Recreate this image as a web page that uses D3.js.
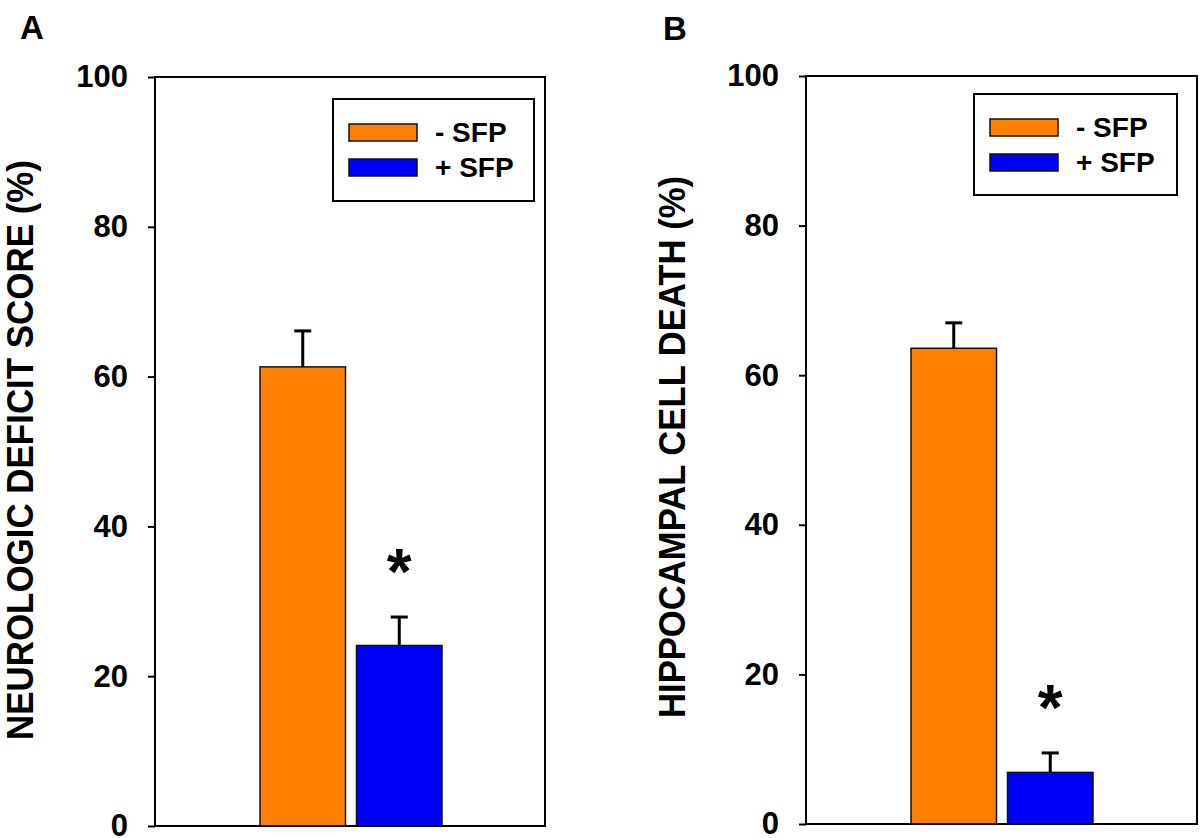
<!DOCTYPE html>
<html><head><meta charset="utf-8">
<script src="https://cdn.jsdelivr.net/npm/d3@7"></script>
<style>
body{margin:0;background:#fff;}
svg{display:block;}
text{font-family:"Liberation Sans", Arial, sans-serif;font-weight:bold;fill:#000;}
</style>
</head><body><svg id="c" width="1200" height="838"></svg>
<script>
// ---- data ----
const groups = ["- SFP", "+ SFP"];
const colors = ["#FF8000", "#0000FF"];
const panelLabels = ["A", "B"];
const yTitles = ["NEUROLOGIC DEFICIT SCORE (%)", "HIPPOCAMPAL CELL DEATH (%)"];
const meansA = [61.3, 24.1];
const errA = [4.8, 3.8];
const meansB = [63.6, 6.9];
const errB = [3.4, 2.6];
const significant = [false, true];
const yTicks = [0, 20, 40, 60, 80, 100];

// ---- layout ----
const panels = [
  {means: meansA, errs: errA, label: panelLabels[0], title: yTitles[0],
   left:155, right:545, top:77, bottom:826, titleX:33, titleY:450, titleLen:580,
   labelX:20, labelY:39, lg:{x:333, y:99, w:201, h:102}},
  {means: meansB, errs: errB, label: panelLabels[1], title: yTitles[1],
   left:806, right:1197, top:76, bottom:824, titleX:685, titleY:447, titleLen:542,
   labelX:663, labelY:40, lg:{x:974, y:94, w:203, h:101}}
];

const svg = d3.select("#c");

panels.forEach(p => {
  const g = svg.append("g");
  const y = d3.scaleLinear().domain([0, 100]).range([p.bottom, p.top]);
  const x = d3.scaleBand().domain(groups).range([p.left + 105, p.left + 287]).paddingInner(0.114);

  // bars
  g.selectAll("rect.bar").data(groups).enter().append("rect")
    .attr("x", d => x(d))
    .attr("width", x.bandwidth())
    .attr("y", (d, i) => y(p.means[i]))
    .attr("height", (d, i) => y(0) - y(p.means[i]))
    .attr("fill", (d, i) => colors[i])
    .attr("stroke", "#111").attr("stroke-width", 1.5);

  // error bars
  groups.forEach((d, i) => {
    const cx = x(d) + x.bandwidth() / 2;
    const top = y(p.means[i] + p.errs[i]);
    g.append("line").attr("x1", cx).attr("x2", cx)
      .attr("y1", y(p.means[i])).attr("y2", top)
      .attr("stroke", "#000").attr("stroke-width", 3);
    g.append("line").attr("x1", cx - 8.5).attr("x2", cx + 8.5)
      .attr("y1", top).attr("y2", top)
      .attr("stroke", "#000").attr("stroke-width", 3);
    if (significant[i]) {
      g.append("text").attr("x", cx).attr("y", top - 56 + 33)
        .attr("text-anchor", "middle").style("font-size", "64px").text("*");
    }
  });

  // frame
  g.append("rect").attr("x", p.left).attr("y", p.top)
    .attr("width", p.right - p.left).attr("height", p.bottom - p.top)
    .attr("fill", "none").attr("stroke", "#000").attr("stroke-width", 2);

  // y axis
  const ax = g.append("g").attr("transform", `translate(${p.left},0)`)
    .call(d3.axisLeft(y).tickValues(yTicks).tickSize(7).tickPadding(20));
  ax.select(".domain").remove();
  ax.selectAll(".tick line").attr("stroke", "#000").attr("stroke-width", 2);
  ax.selectAll(".tick text").style("font-size", "31px").attr("fill", "#000")
    .style("font-family", "'Liberation Sans', Arial, sans-serif").style("font-weight", "bold");

  // y title
  g.append("text")
    .attr("transform", `translate(${p.titleX},${p.titleY}) rotate(-90)`)
    .attr("text-anchor", "middle")
    .attr("textLength", p.titleLen).attr("lengthAdjust", "spacingAndGlyphs")
    .style("font-size", "36px").text(p.title);

  // panel label
  g.append("text").attr("x", p.labelX).attr("y", p.labelY)
    .style("font-size", "33px").text(p.label);

  // legend
  const lg = g.append("g").attr("transform", `translate(${p.lg.x},${p.lg.y})`);
  lg.append("rect").attr("width", p.lg.w).attr("height", p.lg.h)
    .attr("fill", "#fff").attr("stroke", "#000").attr("stroke-width", 2);
  groups.forEach((d, i) => {
    lg.append("rect").attr("x", 16).attr("y", 25 + i * 35)
      .attr("width", 68).attr("height", 17)
      .attr("fill", colors[i]).attr("stroke", "#111").attr("stroke-width", 1.5);
    lg.append("text").attr("x", 102).attr("y", 43 + i * 35)
      .style("font-size", "28px").text(d);
  });
});
</script>
</body></html>
